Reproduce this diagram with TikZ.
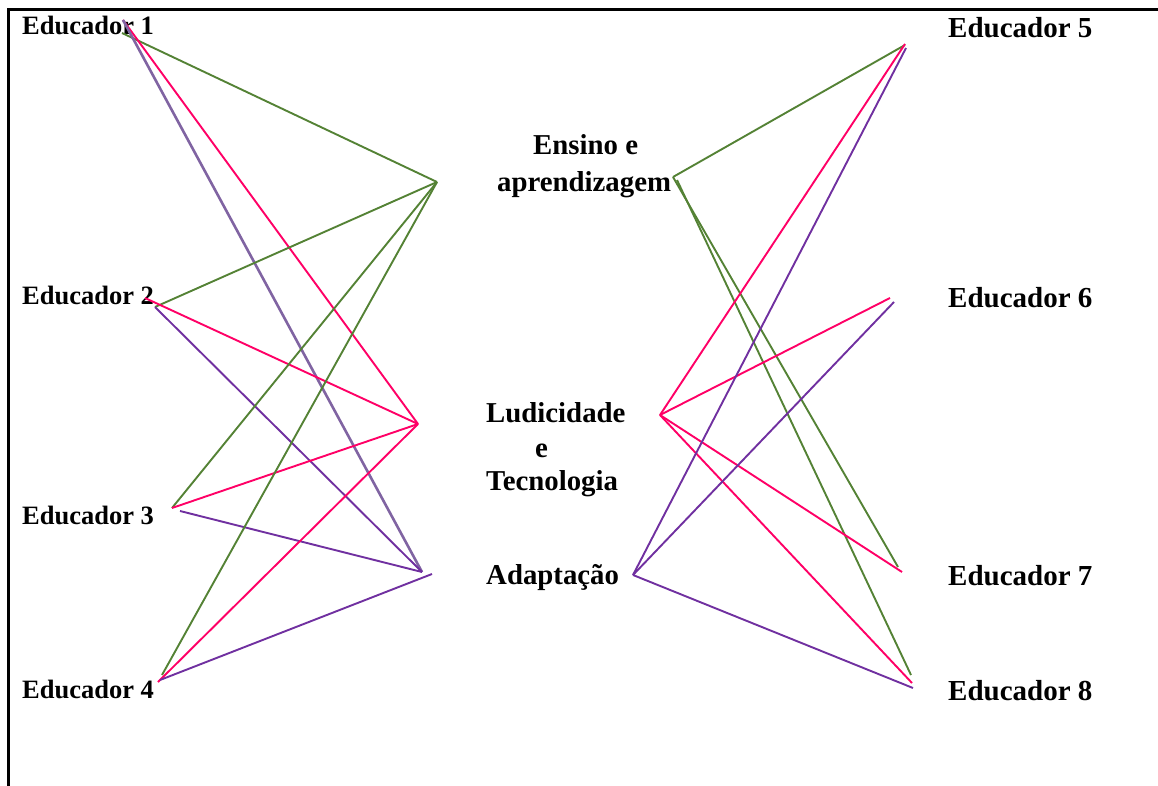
\documentclass[tikz,border=0pt]{standalone}
\usepackage{fontspec}
\setmainfont{Liberation Serif}
\begin{document}
\begin{tikzpicture}[x=1pt,y=-1pt,
  lbl/.style={anchor=base west,inner sep=0pt,font=\fontsize{26.5}{30}\selectfont\bfseries},
  rlbl/.style={anchor=base west,inner sep=0pt,font=\fontsize{29}{33}\selectfont\bfseries},
  clbl/.style={anchor=base west,inner sep=0pt,font=\fontsize{28.8}{33}\selectfont\bfseries},
  gr/.style={draw=ggreen,line width=1.9pt},
  mg/.style={draw=mmag,line width=1.9pt},
  pu/.style={draw=ppur,line width=1.9pt},
  lv/.style={draw=llav,line width=2.6pt}]
\definecolor{ggreen}{RGB}{84,130,53}
\definecolor{mmag}{RGB}{255,0,102}
\definecolor{ppur}{RGB}{112,48,160}
\definecolor{llav}{RGB}{128,100,162}
\useasboundingbox (0,0) rectangle (1158,786);
% frame
\draw[line width=3pt] (8,786) -- (8,10) -- (1158,10);
% labels
\node[lbl] (e1) at (22,35) {Educador 1};
\node[lbl] (e2) at (22,304) {Educador 2};
\node[lbl] (e3) at (22,524) {Educador 3};
\node[lbl] (e4) at (22,698) {Educador 4};
\node[rlbl] (e5) at (948,38) {Educador 5};
\node[rlbl] (e6) at (948,307) {Educador 6};
\node[rlbl] (e7) at (948,585) {Educador 7};
\node[rlbl] (e8) at (948,700) {Educador 8};
\node[clbl] (ens1) at (533,155) {Ensino e};
\node[clbl] (ens2) at (497,192) {aprendizagem};
\node[clbl] (lud1) at (486,422) {Ludicidade};
\node[clbl] (lud2) at (535,457) {e};
\node[clbl] (lud3) at (486,490) {Tecnologia};
\node[clbl] (ada) at (486,584) {Adaptação};
% endpoints
\coordinate (a1) at (123,20);
\coordinate (a1g) at (122,33);
\coordinate (a2m) at (145,298);
\coordinate (a2) at (155,307);
\coordinate (a3) at (172,508);
\coordinate (a3p) at (180,511);
\coordinate (a4g) at (162,675);
\coordinate (a4m) at (158,682);
\coordinate (a4p) at (160,680);
\coordinate (hEL) at (437,182);
\coordinate (hLL) at (418,424);
\coordinate (hAL) at (422,572);
\coordinate (hAL2) at (432,574);
\coordinate (hER) at (673,177);
\coordinate (hER2) at (677,180);
\coordinate (hLR) at (660,415);
\coordinate (hAR) at (633,575);
\coordinate (b5g) at (905,45);
\coordinate (b5m) at (905,44);
\coordinate (b5p) at (906,48);
\coordinate (b6m) at (890,298);
\coordinate (b6p) at (894,302);
\coordinate (b7g) at (898,567);
\coordinate (b7m) at (902,572);
\coordinate (b8g) at (911,675);
\coordinate (b8m) at (912,683);
\coordinate (b8p) at (913,688);
% left connectors
\draw[gr] (a1g) -- (hEL);
\draw[mg] (a1) -- (hLL);
\draw[lv] (a1) -- (hAL);
\draw[gr] (a2) -- (hEL);
\draw[mg] (a2m) -- (hLL);
\draw[pu] (a2) -- (hAL);
\draw[gr] (a3) -- (hEL);
\draw[mg] (a3) -- (hLL);
\draw[pu] (a3p) -- (hAL);
\draw[gr] (a4g) -- (hEL);
\draw[mg] (a4m) -- (hLL);
\draw[pu] (a4p) -- (hAL2);
% right connectors
\draw[gr] (hER) -- (b5g);
\draw[gr] (hER) -- (b7g);
\draw[gr] (hER2) -- (b8g);
\draw[mg] (hLR) -- (b5m);
\draw[mg] (hLR) -- (b6m);
\draw[mg] (hLR) -- (b7m);
\draw[mg] (hLR) -- (b8m);
\draw[pu] (hAR) -- (b5p);
\draw[pu] (hAR) -- (b6p);
\draw[pu] (hAR) -- (b8p);
\end{tikzpicture}
\end{document}
